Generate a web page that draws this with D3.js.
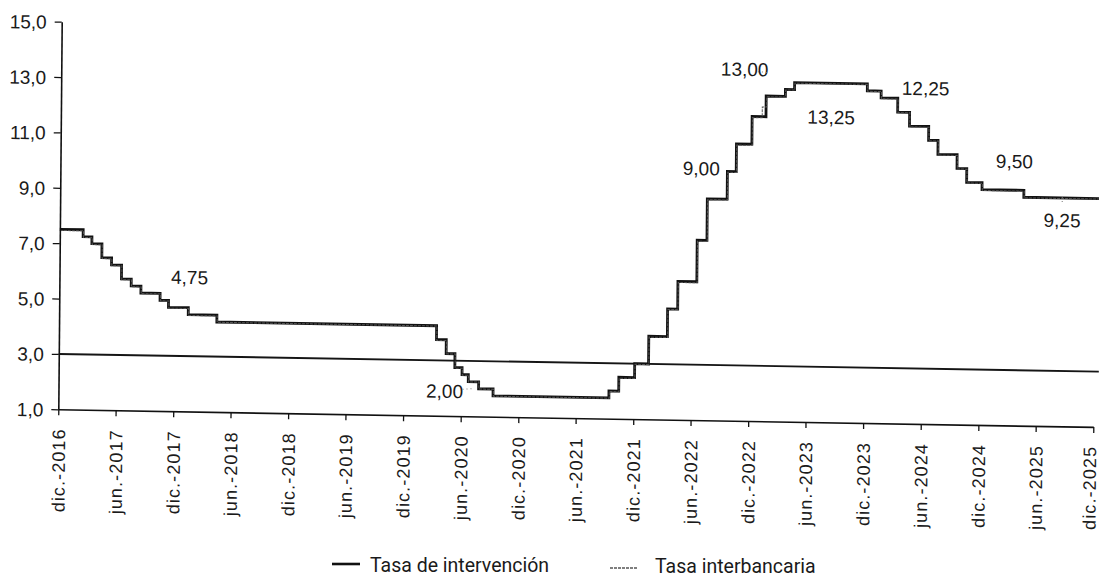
<!DOCTYPE html>
<html><head><meta charset="utf-8">
<script src="https://cdn.jsdelivr.net/npm/d3@7"></script>
<style>body{margin:0;background:#fff}svg{display:block}</style>
</head><body>
<svg id="chart" width="1099" height="582"></svg>
<script>
// ---- data ----
const policyDates = ["2016-12-15","2017-02-27","2017-03-27","2017-04-28","2017-05-29","2017-06-30","2017-07-31","2017-08-31","2017-10-31","2017-11-27","2018-01-29","2018-04-30","2020-03-28","2020-04-28","2020-05-26","2020-06-18","2020-07-08","2020-08-10","2020-09-25","2021-09-28","2021-10-29","2021-12-18","2022-01-31","2022-03-31","2022-05-02","2022-07-01","2022-08-01","2022-10-03","2022-10-31","2022-12-19","2023-02-01","2023-04-03","2023-05-02","2023-12-19","2024-02-01","2024-03-25","2024-05-02","2024-07-02","2024-08-01","2024-10-01","2024-11-01","2024-12-20","2025-05-02","2025-12-31"];
const policyRates = [7.50,7.25,7.00,6.50,6.25,5.75,5.50,5.25,5.00,4.75,4.50,4.25,3.75,3.25,2.75,2.50,2.25,2.00,1.75,2.00,2.50,3.00,4.00,5.00,6.00,7.50,9.00,10.00,11.00,12.00,12.75,13.00,13.25,13.00,12.75,12.25,11.75,11.25,10.75,10.25,9.75,9.50,9.25,9.25];

const interbankDates = ["2016-12-15","2017-02-28","2017-03-28","2017-04-29","2017-05-30","2017-07-01","2017-08-01","2017-09-01","2017-11-01","2017-11-28","2018-01-30","2018-05-01","2020-03-29","2020-04-29","2020-05-27","2020-06-19","2020-07-09","2020-08-11","2020-09-26","2021-09-29","2021-10-30","2021-12-19","2022-02-01","2022-04-01","2022-05-03","2022-07-02","2022-08-02","2022-10-04","2022-11-01","2022-12-20","2023-01-20","2023-02-03","2023-04-04","2023-05-03","2023-12-20","2024-02-02","2024-03-26","2024-05-03","2024-07-03","2024-08-02","2024-10-02","2024-11-02","2024-12-21","2025-05-03","2025-12-31"];
const interbankRates = [7.46,7.22,6.97,6.47,6.22,5.72,5.47,5.23,4.98,4.72,4.47,4.24,3.72,3.24,2.73,2.48,2.24,1.99,1.74,1.98,2.47,2.98,3.97,4.98,5.96,7.46,8.97,9.97,10.96,11.96,12.35,12.72,12.98,13.23,12.98,12.72,12.23,11.72,11.23,10.72,10.23,9.73,9.47,9.23,9.22];

const targetDates = ["2016-12-15","2025-12-31"];
const targetRates = [3.0, 3.0];

const xTickDates = ["2016-12-15","2017-06-15","2017-12-15","2018-06-15","2018-12-15","2019-06-15","2019-12-15","2020-06-15","2020-12-15","2021-06-15","2021-12-15","2022-06-15","2022-12-15","2023-06-15","2023-12-15","2024-06-15","2024-12-15","2025-06-15","2025-12-15"];
const xTickLabels = ["dic.-2016","jun.-2017","dic.-2017","jun.-2018","dic.-2018","jun.-2019","dic.-2019","jun.-2020","dic.-2020","jun.-2021","dic.-2021","jun.-2022","dic.-2022","jun.-2023","dic.-2023","jun.-2024","dic.-2024","jun.-2025","dic.-2025"];
const yTicks = [1,3,5,7,9,11,13,15];

const annLabels = ["4,75","2,00","9,00","13,00","13,25","12,25","9,50","9,25"];
const annDates  = ["2018-02-01","2020-04-24","2022-07-12","2022-11-24","2023-08-27","2024-06-21","2025-04-01","2025-09-01"];
const annValues = [5.60,1.65,9.85,13.46,11.78,12.88,10.30,8.20];

const seriesNames = ["Tasa de intervención","Tasa interbancaria"];

// ---- drawing ----
const parse = d3.timeParse("%Y-%m-%d");
const svg = d3.select("#chart");
const W = 1035, H = 387.6;
const x = d3.scaleTime().domain([parse("2016-12-15"), parse("2025-12-15")]).range([0, W]);
const y = d3.scaleLinear().domain([1, 15]).range([0, -H]);
const locale = d3.formatLocale({decimal: ",", thousands: ".", grouping: [3], currency: ["$", ""]});
const fmt = locale.format(".1f");

// slight skew to follow the scanned page
const g = svg.append("g").attr("transform", "translate(58.3,409.3) matrix(1,0.017,-0.0088,1,0,0)");

const toPts = (ds, vs) => ds.map((d, i) => [parse(d), vs[i]]);
const stepLine = d3.line().x(d => x(d[0])).y(d => y(d[1])).curve(d3.curveStepAfter);
const straight = d3.line().x(d => x(d[0])).y(d => y(d[1]));

// target line
g.append("path").attr("d", straight(toPts(targetDates, targetRates)))
  .attr("fill", "none").attr("stroke", "#151515").attr("stroke-width", 1.9);

// policy rate
g.append("path").attr("d", stepLine(toPts(policyDates, policyRates)))
  .attr("fill", "none").attr("stroke", "#111").attr("stroke-width", 2.8).attr("stroke-linejoin", "miter");

// interbank
g.append("path").attr("d", stepLine(toPts(interbankDates, interbankRates)))
  .attr("fill", "none").attr("stroke", "#555").attr("stroke-width", 1).attr("stroke-dasharray", "3,1");

// axes
const xAxis = g.append("g").call(d3.axisBottom(x).tickValues(xTickDates.map(parse))
    .tickFormat((d, i) => xTickLabels[i]).tickSize(6).tickSizeOuter(0));
xAxis.select(".domain").attr("stroke", "#111").attr("stroke-width", 1.6);
xAxis.selectAll(".tick line").attr("stroke", "#111").attr("stroke-width", 1.3);
xAxis.selectAll(".tick text")
  .attr("transform", "rotate(-90)").attr("x", -19)
  .attr("y", (d, i) => i === xTickLabels.length - 1 ? -4 : 0).attr("dy", "0.36em")
  .attr("text-anchor", "end")
  .style("font-family", "'Liberation Sans', Arial, sans-serif").style("font-size", "18px")
  .style("letter-spacing", "1.1px").attr("fill", "#1a1a1a");

const yAxis = g.append("g").call(d3.axisLeft(y).tickValues(yTicks).tickFormat(fmt).tickSize(7).tickSizeOuter(0));
yAxis.select(".domain").attr("stroke", "#111").attr("stroke-width", 1.6);
yAxis.selectAll(".tick line").attr("stroke", "#111").attr("stroke-width", 1.3);
yAxis.selectAll(".tick text").attr("x", -15).attr("dy", "0.36em")
  .style("font-family", "'Liberation Sans', Arial, sans-serif").style("font-size", "19px").attr("fill", "#1a1a1a");

// annotations
g.selectAll(".ann").data(annLabels).enter().append("text").attr("class", "ann")
  .attr("x", (d, i) => x(parse(annDates[i]))).attr("y", (d, i) => y(annValues[i]))
  .attr("text-anchor", "middle")
  .style("font-family", "'Liberation Sans', Arial, sans-serif").style("font-size", "19px")
  .attr("fill", "#1a1a1a").text(d => d);

// small dotted leaders
const leaders = [
  [["2020-06-20", 1.97], ["2020-07-20", 2.0]],
  [["2023-01-05", 13.62], ["2023-02-05", 13.60]],
  [["2025-09-01", 9.10], ["2025-09-01", 9.30]]
];
leaders.forEach(l => {
  g.append("line").attr("x1", x(parse(l[0][0]))).attr("y1", y(l[0][1]))
    .attr("x2", x(parse(l[1][0]))).attr("y2", y(l[1][1]))
    .attr("stroke", "#777").attr("stroke-width", 1).attr("stroke-dasharray", "1,3");
});

// legend
const lg = svg.append("g").style("font-family", "Roboto, sans-serif").style("font-size", "19.5px");
lg.append("line").attr("x1", 332).attr("x2", 360).attr("y1", 564).attr("y2", 564)
  .attr("stroke", "#111").attr("stroke-width", 2.6);
lg.append("text").attr("x", 370).attr("y", 572).attr("fill", "#1a1a1a").text(seriesNames[0]);
lg.append("line").attr("x1", 610).attr("x2", 637).attr("y1", 568).attr("y2", 568)
  .attr("stroke", "#555").attr("stroke-width", 1.3).attr("stroke-dasharray", "3,1");
lg.append("text").attr("x", 655).attr("y", 573).attr("fill", "#1a1a1a").text(seriesNames[1]);
</script>
</body></html>
